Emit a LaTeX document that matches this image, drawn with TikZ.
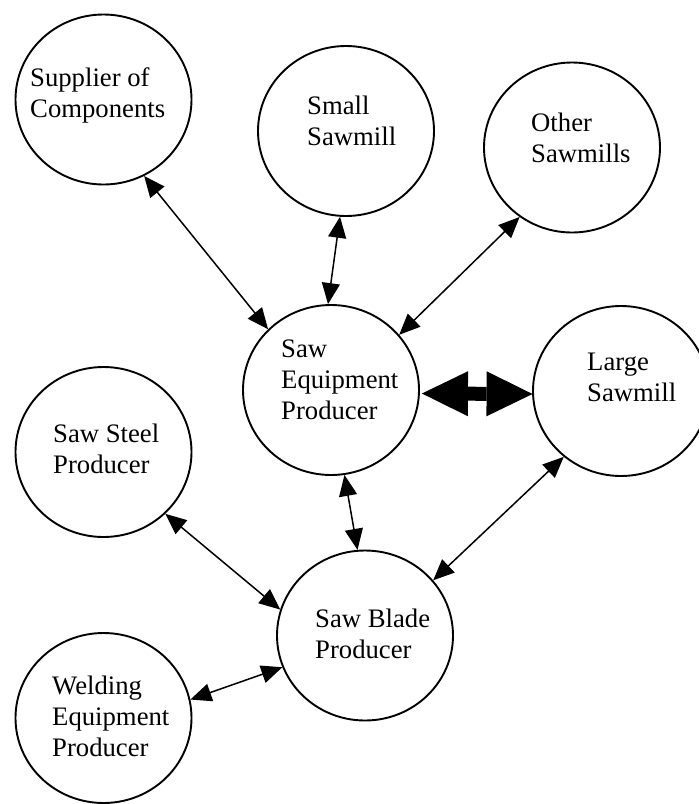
\documentclass[tikz,border=0pt]{standalone}
\usepackage{fontspec}
\setmainfont{Liberation Serif}
\usetikzlibrary{shapes.geometric,arrows.meta}

\tikzset{
  party/.style={ellipse, draw, line width=1.9pt, minimum width=176pt,
    minimum height=170pt, inner sep=0pt},
  caption/.style={anchor=north west, inner sep=0pt, align=left,
    font=\fontsize{26.7pt}{31pt}\selectfont},
  link/.style={line width=1.5pt,
    {Triangle[length=21pt,width=18pt]}-{Triangle[length=21pt,width=18pt]}},
  strong/.style={line width=14pt,
    {Triangle[length=46pt,width=45pt,line width=0pt]}-{Triangle[length=46pt,width=45pt,line width=0pt]}}
}

\begin{document}
\begin{tikzpicture}[x=1pt,y=-1pt]
  \useasboundingbox[fill=white] (0,0) rectangle (699,804);

  % the firms
  \node[party] (sup)   at (103.5, 99.5) {};
  \node[party] (small) at (346, 131)   {};
  \node[party] (other) at (572, 147.5) {};
  \node[party] (eq)    at (331, 390)   {};
  \node[party] (large) at (621, 391)   {};
  \node[party] (steel) at (103.5, 452) {};
  \node[party] (weld)  at (103.5, 718) {};
  \node[party] (blade) at (365, 635.5) {};

  % their names
  \node[caption] (sup-t)   at (30, 67)   {Supplier of\\Components};
  \node[caption] (small-t) at (307, 96)  {Small\\Sawmill};
  \node[caption] (other-t) at (531, 113) {Other\\Sawmills};
  \node[caption] (eq-t)    at (281, 340) {Saw\\Equipment\\Producer};
  \node[caption] (large-t) at (587, 353) {Large\\Sawmill};
  \node[caption] (steel-t) at (53, 424)  {Saw Steel\\Producer};
  \node[caption] (weld-t)  at (52, 676)  {Welding\\Equipment\\Producer};
  \node[caption] (blade-t) at (315, 609) {Saw Blade\\Producer};

  % links between the firms
  \draw[link] (sup.-62)    -- (eq.136);
  \draw[link] (small.-94)  -- (eq.92);
  \draw[link] (other.-127) -- (eq.39);
  \draw[link] (eq.-81)     -- (blade.95);
  \draw[link] (large.-131) -- (blade.39);
  \draw[link] (steel.-45)  -- (blade.163);
  \draw[link] (weld.12)    -- (blade.-159);

  % the strong link to the large sawmill
  \draw[strong] ([xshift=2pt,yshift=-3.5pt]eq.east) -- ([xshift=0.5pt,yshift=-3pt]large.west);
\end{tikzpicture}
\end{document}
